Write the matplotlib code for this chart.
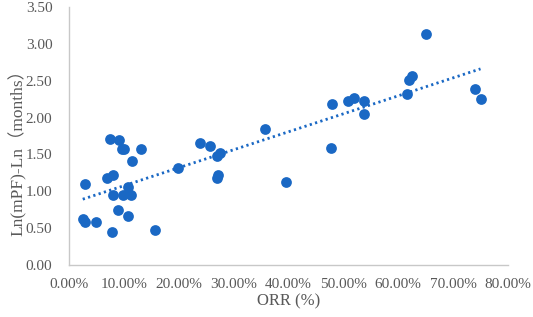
import matplotlib.pyplot as plt
from matplotlib.ticker import FuncFormatter
import numpy as np

# ORR (%) and Ln(mPFS) values
orr = [2.9, 2.5, 2.9, 4.9, 6.9, 8.1, 7.8, 8.1, 9.0, 9.9, 10.8, 11.3, 10.8,
       11.5, 15.7, 19.9, 27.0, 27.2, 26.9, 27.5, 7.5, 9.1, 9.6, 10.0, 13.2,
       23.9, 25.7, 35.7, 47.8, 48.0, 50.9, 52.0, 53.8, 53.8, 61.6, 62.0,
       62.5, 65.0, 74.0, 75.0, 39.5]
ln_pfs = [1.10, 0.63, 0.59, 0.58, 1.18, 1.22, 0.45, 0.95, 0.74, 0.95, 1.06,
          0.95, 0.66, 1.41, 0.47, 1.31, 1.18, 1.22, 1.48, 1.52, 1.71, 1.69,
          1.57, 1.57, 1.57, 1.65, 1.61, 1.85, 1.59, 2.19, 2.22, 2.26, 2.23,
          2.05, 2.32, 2.51, 2.57, 3.13, 2.39, 2.25, 1.13]

x_ticks = [0, 10, 20, 30, 40, 50, 60, 70, 80]
y_ticks = [0, 0.5, 1.0, 1.5, 2.0, 2.5, 3.0, 3.5]

blue = '#1a68c4'
grey = '#595959'

plt.rcParams['font.family'] = ['Liberation Serif', 'Noto Sans CJK SC']

fig = plt.figure(figsize=(5.33, 3.17), dpi=100)
ax = fig.add_axes([0.1295, 0.164, 0.8235, 0.814])

ax.scatter(orr, ln_pfs, s=60, color=blue, zorder=3, linewidths=0)

# linear trendline
k, b = np.polyfit(orr, ln_pfs, 1)
xs = np.array([min(orr), max(orr)])
ax.plot(xs, k * xs + b, color=blue, lw=2, linestyle=(0, (0.8, 1.2)), zorder=2)

ax.set_xlim(0, 80)
ax.set_ylim(0, 3.5)
ax.set_xticks(x_ticks)
ax.set_yticks(y_ticks)
ax.xaxis.set_major_formatter(FuncFormatter(lambda v, p: f"{v:.2f}%"))
ax.yaxis.set_major_formatter(FuncFormatter(lambda v, p: f"{v:.2f}"))
ax.tick_params(length=0, labelsize=11, colors=grey)
ax.tick_params(axis='x', pad=9)
ax.tick_params(axis='y', pad=12)

for s in ['top', 'right']:
    ax.spines[s].set_visible(False)
for s in ['left', 'bottom']:
    ax.spines[s].set_color('#c8c8c8')
    ax.spines[s].set_linewidth(1)

ax.set_xlabel('ORR (%)', fontsize=12, color=grey, labelpad=2)
ax.set_ylabel('Ln(mPF)-Ln\uff08months\uff09', fontsize=12.5, color=grey)
ax.yaxis.set_label_coords(-0.095, 0.453)

fig.savefig('out.png', dpi=100)
